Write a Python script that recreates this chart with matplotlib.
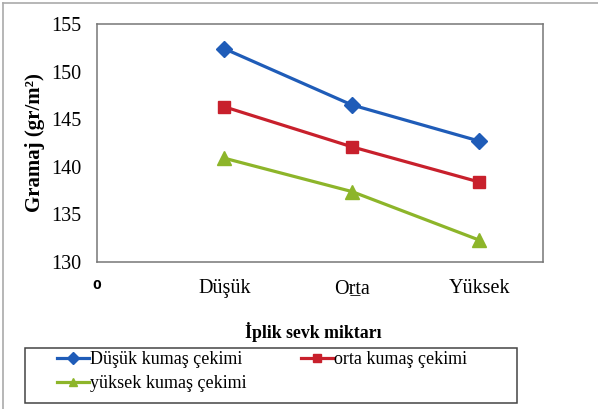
import matplotlib.pyplot as plt
from matplotlib.lines import Line2D
from matplotlib.patches import Rectangle

plt.rcParams['font.family'] = ['Liberation Serif', 'DejaVu Serif']

seviye = ["Düşük", "Or\u0332ta", "Yüksek"]
x_pos = [1, 2, 3]
dusuk_cekme = [152.4, 146.5, 142.7]
orta_cekme = [146.3, 142.1, 138.4]
yuksek_cekme = [140.9, 137.4, 132.3]
seri_adlari = ["Düşük kumaş çekimi", "orta kumaş çekimi", "yüksek kumaş çekimi"]

fig = plt.figure(figsize=(5.98, 4.09), dpi=100)
ax = fig.add_axes([97/598, 1-262/409, 446/598, 238/409])

l1, = ax.plot(x_pos, dusuk_cekme, color="#1f5cb8", lw=2.3, marker="D", ms=8, label=seri_adlari[0])
l2, = ax.plot(x_pos, orta_cekme, color="#c8202c", lw=2.3, marker="s", ms=8.5, label=seri_adlari[1])
l3, = ax.plot(x_pos, yuksek_cekme, color="#8db52a", lw=2.3, marker="^", ms=9.5, label=seri_adlari[2])

ax.set_xlim(0, 3.5)
ax.set_ylim(130, 155)
ax.set_yticks([130, 135, 140, 145, 150, 155])
ax.set_xticks([0] + x_pos)
ax.set_xticklabels(["0"] + seviye)
ax.tick_params(length=0, labelsize=14.5)
ax.tick_params(axis="y", pad=11)
ax.tick_params(axis="x", pad=12)
lbl0 = ax.get_xticklabels()[0]
lbl0.set_fontfamily("DejaVu Sans")
lbl0.set_fontweight("bold")
lbl0.set_fontsize(9)
for s in ax.spines.values():
    s.set_color("#777777")
    s.set_linewidth(1.1)

ax.set_ylabel("Gramaj (gr/m²)", fontsize=15, fontweight="bold", labelpad=5)
fig.text(313/598, 1-332/409, "İplik sevk miktarı", fontsize=12.8, fontweight="bold",
         ha="center", va="center")

# legend box and outer chart border
fig.add_artist(Rectangle((25/598, 1-403/409), 492/598, 55/409, transform=fig.transFigure,
                         fill=False, edgecolor="#444444", lw=1.1))
fig.add_artist(Line2D([3/598, 3/598], [0, 1-3/409], transform=fig.transFigure, color="#aaaaaa", lw=1.2))
fig.add_artist(Line2D([3/598, 1], [1-3/409, 1-3/409], transform=fig.transFigure, color="#aaaaaa", lw=1.2))

# column-major fill: first column Düşük / yüksek, second column orta
leg = fig.legend([l1, l3, l2], [seri_adlari[0], seri_adlari[2], seri_adlari[1]],
                 loc="upper left", bbox_to_anchor=(57/598, 1-351/409), ncol=2,
                 frameon=False, fontsize=13, handlelength=1.75, handletextpad=0.1,
                 columnspacing=3.0, labelspacing=0.4, borderpad=0, borderaxespad=0)
for hd in leg.legend_handles:
    hd.set_markersize(6)

fig.savefig("out.png", dpi=100)
